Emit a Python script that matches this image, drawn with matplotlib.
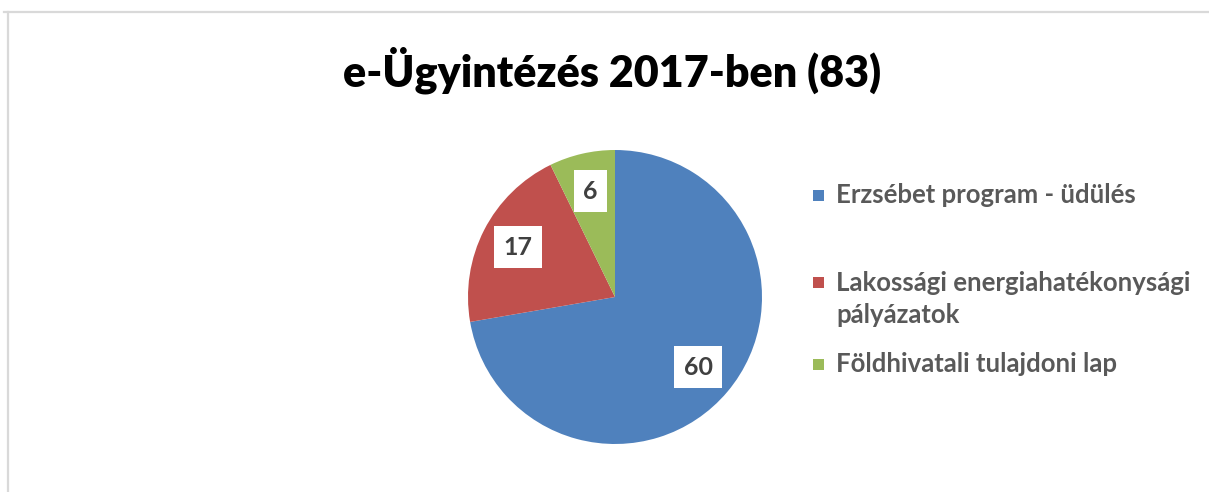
import matplotlib
matplotlib.use("Agg")
import numpy as np
import matplotlib.pyplot as plt
from matplotlib.lines import Line2D
from matplotlib.patches import Rectangle

# Data
categories = ["Erzsébet program - üdülés",
              "Lakossági energiahatékonysági\npályázatok",
              "Földhivatali tulajdoni lap"]
values = [60, 17, 6]
colors = ["#4F81BD", "#C0504D", "#9BBB59"]
title = "e-Ügyintézés 2017-ben (83)"

W, H = 1209, 492
fig = plt.figure(figsize=(W / 100, H / 100), dpi=100)
plt.rcParams['font.family'] = ['Lato', 'DejaVu Sans']

# light grey frame (top and left edge visible)
fig.add_artist(Line2D([4 / W, 1], [1 - 12 / H, 1 - 12 / H], transform=fig.transFigure,
                      color="#d9d9d9", lw=1.6))
fig.add_artist(Line2D([8 / W, 8 / W], [0, 1 - 12 / H], transform=fig.transFigure,
                      color="#d9d9d9", lw=1.6))

fig.text(612 / W, 1 - 70 / H, title, ha="center", va="center",
         fontsize=31, fontweight="heavy", color="black")

# pie: centre (615, 297) px, radius 147 px
cx, cy, r = 615, 297, 147
ax = fig.add_axes([(cx - r) / W, (H - cy - r) / H, 2 * r / W, 2 * r / H])
wedges, _ = ax.pie(values, colors=colors, startangle=90, counterclock=False,
                   wedgeprops=dict(linewidth=0))
ax.set_xlim(-1, 1)
ax.set_ylim(-1, 1)
ax.axis("off")

for w, v in zip(wedges, values):
    ang = np.deg2rad((w.theta1 + w.theta2) / 2)
    ax.text(0.74 * np.cos(ang), 0.74 * np.sin(ang), str(v), ha="center", va="center",
            fontsize=18, fontweight="bold", color="#404040",
            bbox=dict(boxstyle="square,pad=0.38", fc="white", ec="none"))

# legend drawn by hand to match spacing
leg_y = [195, 299, 364]
for lab, col, y in zip(categories, colors, leg_y):
    fig.add_artist(Rectangle((813 / W, 1 - (y + 6 - (17 if "\n" in lab else 0)) / H),
                             11 / W, 11 / H, transform=fig.transFigure,
                             color=col, lw=0))
    fig.text(836 / W, 1 - y / H, lab, ha="left", va="center", fontsize=18.5,
             fontweight="bold", color="#595959", linespacing=1.4)

fig.savefig("out.png", dpi=100)
